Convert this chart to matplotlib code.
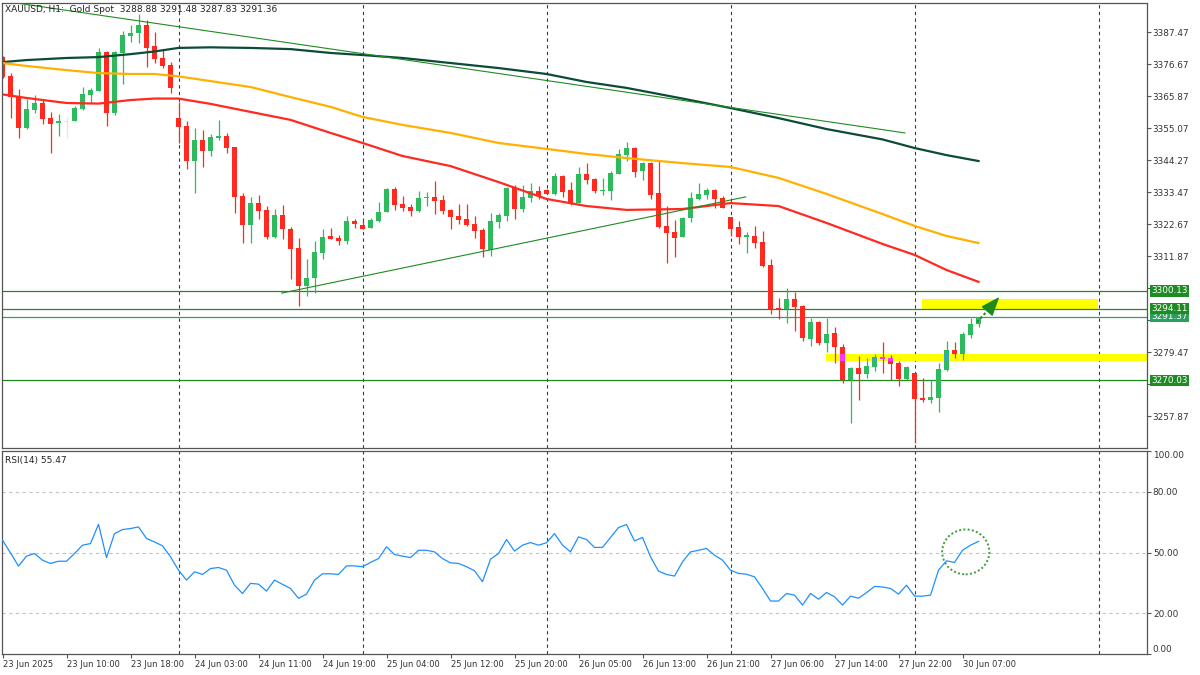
import numpy as np
import matplotlib
matplotlib.use('Agg')
import matplotlib.pyplot as plt
import matplotlib.transforms as mtransforms
from matplotlib.patches import Ellipse, Rectangle

# ---------------- data (XAUUSD H1) ----------------
opens = [3379.1, 3372.7, 3365.6, 3355.2, 3361.2, 3363.6, 3358.5, 3356.8, 3357.2, 3357.5,
         3361.6, 3366.3, 3367.7, 3380.8, 3360.2, 3380.5, 3386.2, 3387.2, 3389.9, 3382.9,
         3378.8, 3376.4, 3358.5, 3355.8, 3344.0, 3351.1, 3347.4, 3351.8, 3352.5, 3348.7,
         3332.2, 3322.4, 3329.8, 3327.5, 3318.3, 3325.8, 3321.0, 3314.6, 3301.8, 3304.5,
         3312.9, 3318.7, 3318.0, 3317.0, 3323.7, 3322.4, 3321.4, 3323.7, 3326.8, 3334.5,
         3329.5, 3328.5, 3327.1, 3331.5, 3331.9, 3330.8, 3327.5, 3325.4, 3324.4, 3322.7,
         3320.7, 3314.0, 3323.4, 3325.4, 3334.9, 3327.8, 3331.5, 3333.9, 3334.2, 3332.9,
         3338.9, 3334.2, 3329.8, 3339.6, 3337.9, 3333.9, 3333.9, 3339.6, 3346.0, 3348.4,
         3340.6, 3343.3, 3333.2, 3322.1, 3320.0, 3318.3, 3324.8, 3331.2, 3332.5, 3334.2,
         3331.5, 3325.1, 3321.7, 3318.3, 3318.7, 3316.7, 3308.9, 3294.4, 3294.0, 3297.4,
         3295.0, 3283.9, 3289.6, 3282.6, 3285.9, 3281.2, 3270.1, 3274.1, 3272.1, 3274.4,
         3277.8, 3277.5, 3275.8, 3270.4, 3272.4, 3264.0, 3263.3, 3264.0, 3273.4, 3280.2,
         3278.8, 3285.3, 3288.88]
highs = [3379.6, 3373.7, 3368.3, 3365.0, 3366.3, 3365.0, 3360.6, 3359.9, 3358.9, 3362.6,
         3369.0, 3368.7, 3382.2, 3381.2, 3381.2, 3387.9, 3389.9, 3393.7, 3391.6, 3387.6,
         3381.8, 3377.4, 3363.9, 3357.5, 3355.2, 3354.5, 3353.1, 3357.9, 3353.5, 3348.9,
         3333.2, 3331.9, 3332.5, 3328.8, 3327.8, 3329.2, 3321.7, 3318.0, 3310.9, 3317.0,
         3321.0, 3321.4, 3319.0, 3325.4, 3324.4, 3323.7, 3324.8, 3330.2, 3334.9, 3335.2,
         3332.2, 3329.5, 3333.9, 3333.5, 3337.3, 3332.5, 3327.8, 3329.5, 3329.5, 3325.4,
         3321.4, 3326.5, 3326.5, 3335.2, 3335.9, 3335.9, 3336.6, 3335.6, 3334.6, 3340.0,
         3339.3, 3336.9, 3342.0, 3343.3, 3338.3, 3338.3, 3340.6, 3348.1, 3350.4, 3348.7,
         3343.7, 3343.7, 3344.0, 3328.8, 3324.1, 3325.1, 3333.5, 3336.6, 3334.9, 3334.5,
         3332.2, 3325.1, 3323.7, 3320.0, 3322.1, 3320.4, 3310.9, 3297.8, 3301.1, 3299.8,
         3295.4, 3291.0, 3290.0, 3291.0, 3288.0, 3282.2, 3274.4, 3278.2, 3277.5, 3278.8,
         3282.9, 3278.5, 3276.5, 3274.8, 3272.4, 3270.7, 3270.1, 3275.8, 3283.2, 3282.9,
         3286.3, 3291.0, 3291.48]
lows = [3372.0, 3358.5, 3351.8, 3354.8, 3360.2, 3356.5, 3346.7, 3352.5, 3351.8, 3357.5,
        3361.2, 3363.6, 3367.7, 3355.8, 3359.5, 3370.0, 3384.2, 3383.9, 3375.8, 3377.1,
        3375.4, 3367.0, 3350.1, 3341.3, 3333.2, 3342.0, 3345.7, 3351.1, 3346.7, 3326.5,
        3316.3, 3316.3, 3324.4, 3317.7, 3318.0, 3317.7, 3304.2, 3295.0, 3298.4, 3299.4,
        3310.9, 3317.7, 3315.6, 3316.0, 3321.4, 3321.0, 3321.4, 3323.4, 3326.8, 3327.5,
        3327.1, 3325.4, 3326.8, 3328.8, 3326.1, 3326.1, 3321.0, 3322.7, 3322.1, 3318.0,
        3311.6, 3311.9, 3321.4, 3323.7, 3324.4, 3326.8, 3330.2, 3331.2, 3332.9, 3332.5,
        3331.9, 3329.2, 3329.8, 3336.2, 3333.2, 3332.5, 3330.8, 3339.6, 3344.0, 3338.6,
        3337.6, 3331.2, 3321.4, 3309.6, 3311.6, 3318.3, 3323.4, 3330.8, 3331.2, 3328.1,
        3328.1, 3318.7, 3316.0, 3312.9, 3314.6, 3308.2, 3292.3, 3290.7, 3289.3, 3286.6,
        3283.2, 3281.5, 3281.9, 3279.5, 3275.8, 3269.0, 3255.5, 3263.3, 3270.7, 3273.1,
        3272.4, 3270.1, 3268.0, 3270.1, 3248.8, 3262.6, 3262.3, 3259.3, 3273.1, 3277.5,
        3276.8, 3284.2, 3287.83]
closes = [3372.4, 3365.6, 3355.2, 3361.6, 3363.6, 3358.2, 3356.5, 3357.5, 3357.2, 3361.9,
          3366.6, 3368.0, 3380.8, 3360.2, 3380.8, 3386.6, 3387.2, 3389.9, 3382.2, 3378.5,
          3376.1, 3368.7, 3355.5, 3344.0, 3351.1, 3347.4, 3352.1, 3352.5, 3348.4, 3331.9,
          3322.4, 3329.8, 3327.1, 3318.3, 3325.8, 3321.0, 3314.3, 3301.8, 3304.5, 3313.3,
          3318.3, 3317.7, 3317.0, 3323.7, 3322.7, 3321.0, 3324.1, 3326.8, 3334.5, 3329.2,
          3328.1, 3327.1, 3331.5, 3331.9, 3330.5, 3327.1, 3325.1, 3324.1, 3322.4, 3320.4,
          3314.3, 3323.7, 3325.8, 3334.9, 3327.8, 3331.9, 3333.9, 3332.2, 3332.9, 3338.9,
          3333.5, 3329.8, 3339.6, 3337.6, 3333.9, 3334.2, 3340.0, 3346.4, 3348.4, 3340.3,
          3343.3, 3332.5, 3321.7, 3319.7, 3318.0, 3324.8, 3331.5, 3332.9, 3334.2, 3331.2,
          3328.1, 3321.0, 3318.3, 3319.0, 3316.3, 3308.6, 3294.0, 3294.0, 3297.4, 3294.7,
          3284.2, 3289.6, 3282.6, 3285.6, 3281.2, 3270.1, 3274.1, 3272.1, 3274.8, 3277.8,
          3277.2, 3275.5, 3270.4, 3274.4, 3263.6, 3263.3, 3264.3, 3273.8, 3280.2, 3278.8,
          3285.6, 3289.0, 3291.36]

rsi = [56.1, 49.8, 43.3, 48.2, 49.5, 46.2, 44.6, 45.7, 45.7, 49.5,
       53.6, 54.4, 63.9, 47.5, 59.3, 61.3, 61.8, 62.6, 56.9, 55.2,
       53.3, 47.9, 41.3, 36.4, 40.5, 39.2, 42.1, 42.6, 41.3, 33.9,
       29.8, 34.8, 34.4, 31.0, 36.4, 34.3, 32.3, 27.4, 29.5, 36.4,
       39.5, 39.5, 39.2, 43.4, 43.4, 43.0, 45.1, 47.0, 52.8, 49.0,
       48.2, 47.5, 51.1, 51.1, 50.3, 47.0, 44.9, 44.6, 43.0, 41.0,
       35.6, 46.7, 49.5, 56.4, 50.7, 53.6, 54.9, 53.6, 54.8, 59.3,
       53.6, 50.3, 57.7, 56.4, 52.5, 52.5, 57.4, 62.3, 63.8, 55.7,
       57.4, 47.9, 40.8, 39.2, 38.4, 45.4, 50.3, 51.1, 52.0, 48.7,
       46.2, 41.3, 39.7, 39.3, 38.0, 32.3, 26.1, 26.1, 29.8, 29.0,
       24.1, 29.8, 27.0, 30.3, 28.2, 24.1, 28.5, 27.5, 30.2, 33.3,
       33.0, 32.3, 29.5, 33.9, 28.5, 28.5, 29.0, 41.3, 45.9, 45.1,
       51.1, 53.6, 55.47]

# moving averages, read at these bars
ma_bars = [0, 3, 8, 12, 16, 19, 22, 26, 31, 36, 41, 45, 50, 56, 62, 68, 73, 78, 85, 91,
           97, 103, 110, 114, 118, 122]
ma_slow = [3377.4, 3378.1, 3378.8, 3379.1, 3380.1, 3381.0, 3382.2, 3382.4, 3382.2, 3381.8,
           3380.5, 3379.8, 3378.8, 3377.1, 3375.4, 3373.4, 3370.7, 3368.7, 3365.1, 3361.9,
           3358.5, 3354.8, 3351.3, 3348.4, 3346.0, 3344.0]
ma_mid = [3377.1, 3376.1, 3374.7, 3373.7, 3373.4, 3373.4, 3372.6, 3371.0, 3369.0, 3365.6,
          3362.3, 3358.9, 3356.2, 3353.5, 3350.1, 3348.1, 3346.4, 3345.0, 3343.3, 3342.0,
          3338.3, 3332.9, 3326.1, 3322.1, 3318.7, 3316.3]
ma_fast = [3366.5, 3365.3, 3363.6, 3363.4, 3364.6, 3365.1, 3365.1, 3363.3, 3360.6, 3357.9,
           3353.5, 3350.1, 3345.7, 3342.3, 3336.9, 3331.2, 3328.8, 3327.5, 3327.8, 3329.8,
           3328.8, 3323.1, 3316.0, 3312.3, 3307.2, 3303.2]

# trend lines (bar, price)
trend_down = [(0.9, 3397.7), (112.8, 3353.5)]
trend_up = [(34.9, 3299.4), (92.9, 3331.9)]

levels = [3300.13, 3294.11, 3270.03]
bid = 3291.37
zone_hi = (114.94, 3294.11, 3297.45)
zone_lo = (102.94, 3276.47, 3278.83)

# projection arrow: tail, head base, tip (bar, price)
arrow_pts = [(121.8, 3289.6), (123.2, 3293.7), (124.6, 3298.1)]

price_ticks = [3387.47, 3376.67, 3365.87, 3355.07, 3344.27, 3333.47, 3322.67, 3311.87,
               3301.07, 3290.27, 3279.47, 3268.67, 3257.87]
# these sit under the level boxes on the terminal
hidden_ticks = [3301.07, 3290.27, 3268.67]
rsi_ticks = [0, 20, 50, 80, 100]
day_breaks = [22, 45, 68, 91, 114, 137]
time_ticks = list(range(0, 121, 8))
time_labels = ["23 Jun 2025", "23 Jun 10:00", "23 Jun 18:00", "24 Jun 03:00", "24 Jun 11:00",
               "24 Jun 19:00", "25 Jun 04:00", "25 Jun 12:00", "25 Jun 20:00", "26 Jun 05:00",
               "26 Jun 13:00", "26 Jun 21:00", "27 Jun 06:00", "27 Jun 14:00", "27 Jun 22:00",
               "30 Jun 07:00"]

# ---------------- colours ----------------
BULL = '#2fba5e'
BEAR = '#ff2a1f'
DOJI = '#e4e4e4'
LINE_G = '#208a20'
FRAME = '#555555'
TXT = '#333333'

W, H = 1200, 675
fig = plt.figure(figsize=(12, 6.75), dpi=100)
fig.patch.set_facecolor('white')


def px_axes(x0, y0, x1, y1):
    """axes placed by pixel box (top-left origin)"""
    return fig.add_axes([x0 / W, 1 - y1 / H, (x1 - x0) / W, (y1 - y0) / H])


ax = px_axes(2, 3, 1147, 448)
ax2 = px_axes(2, 451, 1147, 654)
XMIN, XMAX = -0.0625, 143.06
for a in (ax, ax2):
    a.set_xlim(XMIN, XMAX)
    for s in a.spines.values():
        s.set_color(FRAME)
        s.set_linewidth(0.9)
    for b in day_breaks:
        a.axvline(b, color='#3a3a3a', lw=0.8, ls=(0, (3, 3)), zorder=1)

ax.set_ylim(3247.09, 3397.37)
ax2.set_ylim(0, 100)

# ---------------- zones ----------------
for x0, lo, hi in (zone_hi, zone_lo):
    x1 = 136.94 if x0 > 110 else XMAX + 1
    ax.add_patch(Rectangle((x0, lo), x1 - x0, hi - lo, facecolor='#ffff00', edgecolor='none',
                           zorder=1.5))

# ---------------- horizontal levels ----------------
for lv in levels:
    ax.axhline(lv, color=LINE_G, lw=0.9, zorder=1.6)
ax.axhline(bid, color='#3a9e62', lw=0.9, zorder=1.6)

# ---------------- candles ----------------
o, h, l, c = (np.array(v) for v in (opens, highs, lows, closes))
idx = np.arange(len(o))
cols = np.where(c > o, BULL, np.where(c < o, BEAR, DOJI))
ax.vlines(idx, l, h, colors=cols, lw=0.9, zorder=2)
body_lo = np.minimum(o, c)
body_h = np.maximum(np.abs(c - o), 0.35)
ax.bar(idx, body_h, bottom=body_lo, width=0.63, color=cols, linewidth=0, zorder=2.1)

# where bodies cross the lower yellow zone the terminal inverts colours
zx0, zlo, zhi = zone_lo
for i in idx[idx >= zx0]:
    lo_ = max(body_lo[i], zlo)
    hi_ = min(body_lo[i] + body_h[i], zhi)
    if hi_ > lo_:
        ax.bar(i, hi_ - lo_, bottom=lo_, width=0.63, linewidth=0, zorder=2.2,
               color='#ff33ff' if c[i] < o[i] else '#33aab0')

# ---------------- moving averages / trend lines ----------------
ax.plot(ma_bars, ma_slow, color='#0b4b38', lw=1.6, zorder=2.5)
ax.plot(ma_bars, ma_mid, color='#ffb000', lw=1.6, zorder=2.5)
ax.plot(ma_bars, ma_fast, color='#ff2a1f', lw=1.6, zorder=2.5)
for tl in (trend_down, trend_up):
    ax.plot([p[0] for p in tl], [p[1] for p in tl], color='#1f8c1f', lw=0.8, zorder=2.6)

# arrow toward the upper zone: dotted tail + solid head
ARROW_C = '#1c8a1c'
ax.plot([arrow_pts[0][0], arrow_pts[1][0]], [arrow_pts[0][1], arrow_pts[1][1]],
        color=ARROW_C, lw=1.5, ls=(0, (1.2, 1.2)), zorder=4)
ax.annotate('', xy=arrow_pts[2], xytext=arrow_pts[1],
            arrowprops=dict(arrowstyle='-|>,head_length=0.85,head_width=0.33', mutation_scale=14,
                            color=ARROW_C, lw=1.0, shrinkA=0, shrinkB=0), zorder=4)

# ---------------- price axis ----------------
for a in (ax, ax2):
    a.yaxis.tick_right()
    a.tick_params(axis='y', direction='out', length=3, width=0.8, pad=1.2, labelsize=6.4,
                  colors=FRAME, labelcolor=TXT)
ax.set_yticks(price_ticks)
ax.set_yticklabels(['' if p in hidden_ticks else f'{p:.2f}' for p in price_ticks])
ax.set_xticks([])

box_tr = mtransforms.blended_transform_factory(ax.transAxes, ax.transData)
for lv, fc in ((3300.13, '#1f8b24'), (bid, '#2e9e5e'), (3294.11, '#1f8b24'), (3270.03, '#1f8b24')):
    ax.text(1.0036, lv, f'{lv:.2f}', transform=box_tr, ha='left', va='center', fontsize=6.4,
            color='white', clip_on=False, zorder=6,
            bbox=dict(boxstyle='square,pad=0.12', fc=fc, ec='none'))

ax.text(0.003, 0.986, 'XAUUSD, H1:  Gold Spot  3288.88 3291.48 3287.83 3291.36',
        transform=ax.transAxes, ha='left', va='center', fontsize=6.5, color='#222222', zorder=7)

# ---------------- RSI ----------------
for lv in (20, 50, 80):
    ax2.axhline(lv, color='#c4c4c4', lw=0.8, ls=(0, (3, 3)), zorder=1)
ax2.plot(idx, rsi, color='#1e90ff', lw=0.9, zorder=3)
ax2.add_patch(Ellipse((120.4, 50.3), 5.9, 22.1, fill=False, ec='#3c9c3c', lw=1.4,
                      ls=(0, (1, 1.2)), zorder=4))
ax2.set_yticks(rsi_ticks)
ytl = ax2.set_yticklabels([f'{v:.2f}' for v in rsi_ticks])
ytl[0].set_va('bottom')
ytl[-1].set_va('top')
ax2.text(0.003, 0.955, 'RSI(14) 55.47', transform=ax2.transAxes, ha='left', va='center',
         fontsize=6.5, color='#222222')

ax2.set_xticks(time_ticks)
ax2.set_xticklabels(time_labels, ha='left')
ax2.tick_params(axis='x', direction='out', length=3, width=0.8, pad=1.5, labelsize=6.0,
                colors=FRAME, labelcolor=TXT)

fig.savefig('out.png', dpi=100, facecolor='white')
